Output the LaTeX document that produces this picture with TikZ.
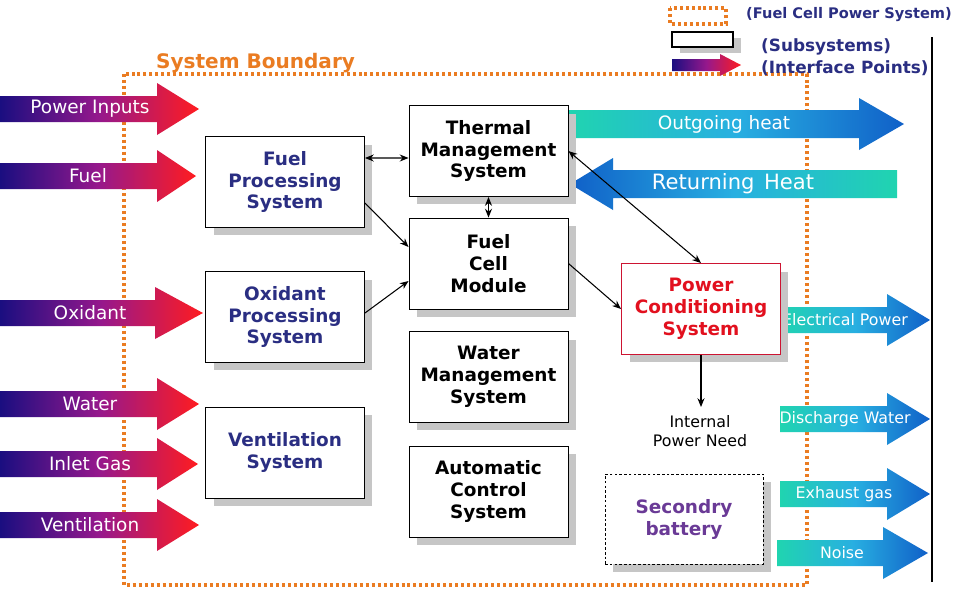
\documentclass[tikz,border=0pt]{standalone}
\usepackage{fontspec}
\setmainfont{DejaVu Sans}
\usetikzlibrary{shadows,arrows.meta,calc}
\definecolor{navyT}{RGB}{42,46,130}
\definecolor{orngB}{RGB}{234,124,34}
\definecolor{redT}{RGB}{226,16,30}
\definecolor{redB}{RGB}{205,20,50}
\definecolor{purpT}{RGB}{106,58,150}
\definecolor{gA}{RGB}{26,14,128}
\definecolor{gB}{RGB}{150,24,140}
\definecolor{gC}{RGB}{255,28,32}
\definecolor{tA}{RGB}{32,212,176}
\definecolor{tB}{RGB}{40,175,225}
\definecolor{tC}{RGB}{16,96,200}
\definecolor{shd}{RGB}{198,198,198}
\newcommand{\fatarrow}[7]{%
 \shade[#7] (#1,{#4-#5}) -- (#2,{#4-#5}) -- (#2,{#4-#6}) -- (#3,#4) -- (#2,{#4+#6}) -- (#2,{#4+#5}) -- (#1,{#4+#5}) -- cycle;}
\begin{document}
\begin{tikzpicture}[x=0.02cm,y=-0.02cm,
  box/.style={draw=black, line width=0.55pt, fill=white, minimum width=3.18cm, minimum height=1.82cm, align=center,
    font=\fontsize{10.5}{12.5}\selectfont\bfseries,
    drop shadow={shadow xshift=0.16cm, shadow yshift=-0.16cm, fill=shd, opacity=1}},
  inL/.style={left color=gA, right color=gC, middle color=gB},
  inR/.style={left color=tA, right color=tC, middle color=tB},
  inRr/.style={left color=tC, right color=tA, middle color=tB},
  ltxt/.style={text=white, font=\fontsize{10.5}{12}\selectfont},
  rtxt/.style={text=white, font=\fontsize{9}{11}\selectfont},
  con/.style={line width=0.6pt, -{Stealth[length=5pt,width=4pt]}},
  dcon/.style={line width=0.6pt, {Stealth[length=5pt,width=4pt]}-{Stealth[length=5pt,width=4pt]}},
  bnd/.style={draw=orngB, line width=1.9pt, dash pattern=on 1.7pt off 1.7pt},
  legtxt/.style={anchor=west, text=navyT, font=\fontsize{9.6}{11}\selectfont\bfseries}
]
\useasboundingbox (0,0) rectangle (968,589);
\fill[white] (0,0) rectangle (968,589);

% system boundary
\draw[bnd] (124,74) rectangle (807,585);
\node[anchor=west, text=orngB, font=\fontsize{11.4}{13}\selectfont\bfseries] (sb) at (150,63) {System Boundary};

% legend
\draw[bnd] (670,8) rectangle (726,24);
\node[legtxt, font=\fontsize{8.3}{10}\selectfont\bfseries] (l1) at (740,15) {(Fuel Cell Power System)};
\node[draw=black, line width=0.6pt, fill=white, minimum width=1.22cm, minimum height=0.3cm, inner sep=0pt,
  drop shadow={shadow xshift=0.16cm, shadow yshift=-0.12cm, fill=shd, opacity=1}] (lb) at (702.5,39.5) {};
\node[legtxt] (l2) at (755,47) {(Subsystems)};
\fatarrow{672}{720}{741}{65}{6}{11}{inL}
\node[legtxt] (l3) at (755,68) {(Interface Points)};

% vertical line
\draw[line width=0.6pt] (932,37) -- (932,582);

% input arrows
\fatarrow{0}{157}{199}{109}{13}{26}{inL}
\node[ltxt] (tPI) at (90,109) {Power Inputs};
\fatarrow{0}{157}{196}{176}{13}{26}{inL}
\node[ltxt] (tFu) at (88,176) {Fuel};
\fatarrow{0}{155}{203}{313}{13}{26}{inL}
\node[ltxt] (tOx) at (90,313) {Oxidant};
\fatarrow{0}{157}{199}{404}{13}{26}{inL}
\node[ltxt] (tWa) at (90,404) {Water};
\fatarrow{0}{157}{198}{464}{13}{26}{inL}
\node[ltxt] (tIG) at (90,464) {Inlet Gas};
\fatarrow{0}{157}{199}{525}{13}{26}{inL}
\node[ltxt] (tVe) at (90,525) {Ventilation};

% heat arrows
\fatarrow{568}{859}{904}{124}{14}{26}{inR}
\node[ltxt] (tOH) at (724,124) {Outgoing heat};
\fatarrow{897}{613}{570}{184}{14}{26}{inRr}
\node[text=white, font=\fontsize{12}{14}\selectfont] (tRH) at (733,184) {Returning\hspace{0.45em}Heat};

% output arrows
\fatarrow{780}{887}{930}{320}{13}{26}{inR}
\node[rtxt] (tEP) at (845,320) {Electrical Power};
\fatarrow{780}{887}{930}{419}{13}{26}{inR}
\node[rtxt] (tDW) at (845,419) {Discharge Water};
\fatarrow{780}{887}{930}{494}{13}{26}{inR}
\node[rtxt] (tEG) at (844,494) {Exhaust gas};
\fatarrow{777}{883}{928}{553}{13}{26}{inR}
\node[rtxt] (tNo) at (842,553) {Noise};

% boxes
\node[box, text=navyT] (FPS) at (285,182) {Fuel\\Processing\\System};
\node[box, text=navyT] (OPS) at (285,317) {Oxidant\\Processing\\System};
\node[box, text=navyT] (VS) at (285,452.5) {Ventilation\\System};
\node[box] (TMS) at (488.5,151) {Thermal\\Management\\System};
\node[box] (FCM) at (488.5,263.5) {Fuel\\Cell\\Module};
\node[box] (WMS) at (488.5,377) {Water\\Management\\System};
\node[box] (ACS) at (488.5,491.5) {Automatic\\Control\\System};
\node[box, draw=redB, text=redT] (PCS) at (701,309) {Power\\Conditioning\\System};
\node[box, text=purpT, line width=0.5pt, dash pattern=on 1.5pt off 1.2pt, minimum width=3.16cm, minimum height=1.8cm] (SB) at (684,519) {Secondry\\battery};

% connectors
\draw[dcon] ([yshift=0.48cm]FPS.east) -- ([yshift=-0.14cm]TMS.west);
\draw[dcon] (TMS.south) -- (FCM.north);
\draw[con] ([yshift=-0.42cm]FPS.east) -- ([yshift=0.33cm]FCM.west);
\draw[con] ([yshift=0.08cm]OPS.east) -- ([yshift=-0.35cm]FCM.west);
\draw[con] (FCM.east) -- (PCS.west);
\draw[dcon] (TMS.east) -- (PCS.north);
\coordinate (ipnTop) at (701,407);
\draw[con] (PCS.south) -- (ipnTop);
\node[align=center, font=\fontsize{9}{10.8}\selectfont] (IPN) at (700,431) {Internal\\Power Need};
\end{tikzpicture}
\end{document}
